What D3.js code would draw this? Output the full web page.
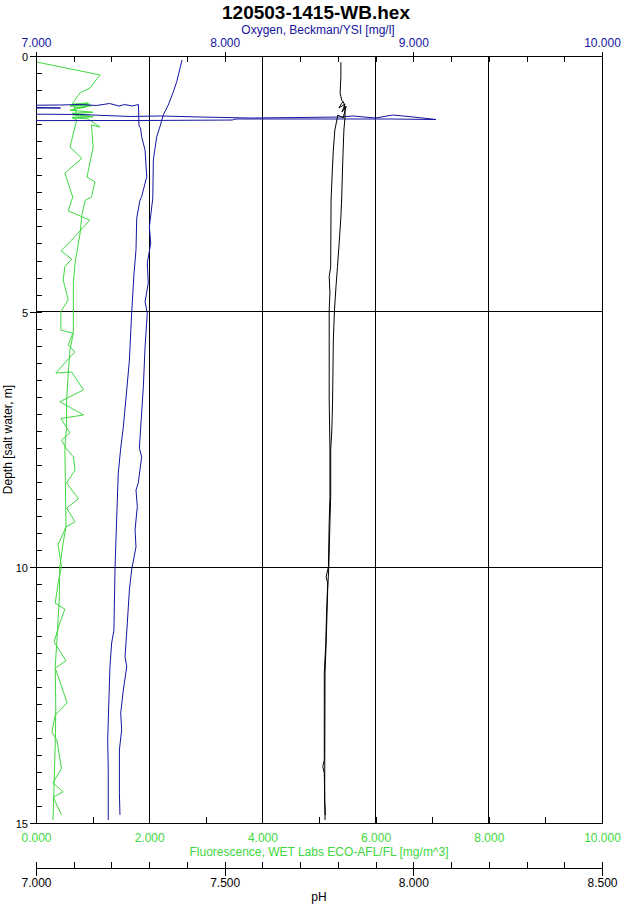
<!DOCTYPE html>
<html>
<head>
<meta charset="utf-8">
<script src="https://cdn.jsdelivr.net/npm/d3@7"></script>
<style>
  body { margin: 0; background: #fff; }
  svg { display: block; font-family: "Liberation Sans", Arial, sans-serif; }
</style>
</head>
<body>
<svg></svg>
<script>
// [depth m, value] pairs

// fluorescence, zigzag trace (reaches the surface)
const fluorA = [
  [0.12, 0.02], [0.37, 1.13], [0.63, 0.95], [0.72, 0.78], [0.92, 0.65], [1.10, 0.71], [1.21, 0.64],
  [1.25, 0.72], [1.78, 0.60], [2.00, 0.81], [2.29, 0.51], [2.76, 0.65], [2.82, 0.63], [3.03, 0.57],
  [3.21, 0.95], [3.60, 0.63], [3.81, 0.44], [3.97, 0.63], [4.12, 0.51], [4.38, 0.48], [4.77, 0.57],
  [5.00, 0.44], [5.36, 0.44], [5.42, 0.65], [5.65, 0.57], [5.79, 0.69], [5.89, 0.60], [6.20, 0.35],
  [6.18, 0.63], [6.53, 0.84], [6.76, 0.42], [7.02, 0.84], [7.09, 0.44], [7.37, 0.60], [7.51, 0.45],
  [7.67, 0.53], [7.84, 0.66], [8.10, 0.69], [8.35, 0.54], [8.66, 0.75], [8.84, 0.54], [9.11, 0.69],
  [9.21, 0.53], [9.56, 0.39], [9.99, 0.45], [10.31, 0.39], [10.70, 0.34], [10.82, 0.51], [11.09, 0.42],
  [11.46, 0.32], [11.83, 0.53], [11.97, 0.34], [12.65, 0.55], [12.89, 0.34], [13.22, 0.28], [13.38, 0.37],
  [13.93, 0.45], [14.22, 0.30], [14.39, 0.48], [14.49, 0.31], [14.58, 0.34], [14.84, 0.45]
];

// fluorescence, smoother trace (starts in the surface soak)
const fluorB = [
  [0.94, 0.64], [0.92, 0.92], [0.96, 0.69], [0.94, 0.95], [0.98, 0.60], [0.97, 0.99], [1.02, 0.67],
  [1.00, 0.88], [1.06, 0.60], [1.10, 1.01], [1.12, 0.64], [1.15, 0.95], [1.17, 0.69], [1.19, 1.01],
  [1.21, 0.65], [1.23, 0.92], [1.39, 1.13], [1.35, 0.98], [1.78, 1.01], [2.37, 0.90], [2.46, 1.04],
  [2.76, 0.98], [2.82, 0.87], [3.11, 0.81], [3.46, 0.78], [4.05, 0.69], [4.44, 0.66], [5.42, 0.66],
  [5.75, 0.60], [6.20, 0.57], [6.73, 0.54], [7.26, 0.54], [7.65, 0.51], [9.21, 0.53], [9.52, 0.48],
  [9.99, 0.42], [10.64, 0.41], [11.42, 0.37], [11.94, 0.34], [12.79, 0.35], [13.44, 0.34], [14.22, 0.32],
  [14.94, 0.30]
];

// oxygen, downcast with the surface soak spike
const oxygenDown = [
  [1.265, 6.54], [1.261, 7.60], [1.252, 8.04], [1.232, 8.06], [1.232, 8.88], [1.242, 9.12], [1.193, 9.00],
  [1.154, 8.89], [1.213, 8.80], [1.173, 8.68], [1.193, 8.61], [1.203, 8.40], [1.213, 8.13], [1.193, 7.87],
  [1.173, 7.66], [1.183, 7.50], [1.144, 7.23], [1.125, 6.54], [1.017, 6.54], [1.017, 7.13], [0.978, 6.54],
  [0.958, 7.13], [0.949, 7.23], [0.968, 7.32], [0.929, 7.39], [0.978, 7.44], [0.949, 7.47], [0.978, 7.51],
  [0.949, 7.543], [1.369, 7.546], [1.408, 7.554], [1.58, 7.560], [1.84, 7.578], [2.36, 7.587], [2.75, 7.560],
  [2.82, 7.551], [3.17, 7.534], [3.79, 7.530], [4.28, 7.519], [5.03, 7.507], [5.95, 7.495], [6.53, 7.481],
  [7.25, 7.463], [7.67, 7.449], [8.16, 7.436], [9.01, 7.428], [9.99, 7.419], [11.23, 7.413], [11.48, 7.401],
  [11.94, 7.392], [12.53, 7.387], [13.38, 7.380], [13.96, 7.383], [14.94, 7.383]
];

// oxygen, upcast
const oxygenUp = [
  [0.08, 7.774], [0.50, 7.746], [0.70, 7.728], [0.96, 7.701], [1.15, 7.675], [1.38, 7.657], [1.58, 7.640],
  [1.80, 7.631], [2.03, 7.622], [2.78, 7.619], [3.34, 7.601], [3.66, 7.608], [4.05, 7.590], [4.44, 7.595],
  [4.81, 7.578], [5.03, 7.590], [5.69, 7.578], [6.47, 7.569], [6.98, 7.560], [7.67, 7.548], [7.84, 7.560],
  [8.35, 7.542], [8.49, 7.530], [8.81, 7.537], [9.27, 7.525], [9.60, 7.530], [10.05, 7.507], [10.44, 7.495],
  [11.09, 7.484], [11.75, 7.472], [11.94, 7.481], [12.40, 7.463], [12.85, 7.449], [13.18, 7.454],
  [13.57, 7.442], [14.41, 7.442], [14.84, 7.445]
];

// pH, downcast
const phDown = [
  [0.894, 7.814], [0.925, 7.810], [1.017, 7.803], [0.939, 7.819], [1.095, 7.811], [0.978, 7.822],
  [1.213, 7.814], [1.154, 7.800], [1.447, 7.792], [1.838, 7.788], [2.288, 7.785], [2.816, 7.782],
  [4.121, 7.781], [4.316, 7.777], [4.635, 7.779], [4.967, 7.777], [6.728, 7.777], [7.705, 7.779],
  [8.619, 7.779], [9.108, 7.777], [9.988, 7.775], [10.183, 7.769], [10.307, 7.773], [10.894, 7.770],
  [11.481, 7.768], [12.067, 7.764], [13.768, 7.764], [13.899, 7.760], [14.022, 7.764], [14.941, 7.766]
];

// pH, upcast
const phUp = [
  [0.123, 7.808], [0.405, 7.808], [0.724, 7.806], [0.860, 7.810], [0.919, 7.816], [1.056, 7.819],
  [1.193, 7.819], [1.447, 7.816], [1.838, 7.814], [2.288, 7.812], [2.816, 7.810], [3.143, 7.808],
  [3.598, 7.804], [4.121, 7.799], [4.512, 7.795], [4.967, 7.791], [5.554, 7.788], [6.728, 7.786],
  [7.314, 7.784], [7.705, 7.781], [8.619, 7.781], [9.108, 7.779], [9.988, 7.776], [10.443, 7.773],
  [11.480, 7.769], [12.067, 7.766], [14.551, 7.765], [14.844, 7.767]
];

// axis ticks and labels
const depthLabels = [0, 5, 10, 15];
const oxygenLabels = [7, 8, 9, 10];
const fluorLabels = [0, 2, 4, 6, 8, 10];
const phLabels = [7, 7.5, 8, 8.5];

const title = "120503-1415-WB.hex";
const blue = "#1414a0";
const green = "#40d840";

const width = 626, height = 905;
const plotLeft = 36, plotRight = 602, plotTop = 56, plotBottom = 823;
const phAxisY = 868;

const svg = d3.select("svg").attr("width", width).attr("height", height);

// scales
const y = d3.scaleLinear().domain([0, 15]).range([plotTop, plotBottom]);
const xOx = d3.scaleLinear().domain([7, 10]).range([plotLeft, plotRight]);
const xFl = d3.scaleLinear().domain([0, 10]).range([plotLeft, plotRight]);
const xPh = d3.scaleLinear().domain([7, 8.5]).range([plotLeft, plotRight]);

const fmt = d3.format(".3f");

// grid lines and frame
const grid = svg.append("g").attr("stroke", "#000").attr("shape-rendering", "crispEdges");
grid.selectAll(".gx").data([2, 4, 6, 8]).enter().append("line")
    .attr("x1", d => xFl(d)).attr("x2", d => xFl(d)).attr("y1", plotTop).attr("y2", plotBottom);
grid.selectAll(".gy").data([5, 10]).enter().append("line")
    .attr("x1", plotLeft).attr("x2", plotRight).attr("y1", d => y(d)).attr("y2", d => y(d));
grid.append("rect").attr("x", plotLeft).attr("y", plotTop)
    .attr("width", plotRight - plotLeft).attr("height", plotBottom - plotTop).attr("fill", "none");

function styleAxis(g, color) {
    g.select(".domain").remove();
    g.attr("font-family", null).attr("font-size", 12);
    g.selectAll(".tick line").attr("stroke", "#000").attr("shape-rendering", "crispEdges");
    g.selectAll(".tick text").attr("fill", color);
}

// top axis: oxygen
svg.append("g").attr("transform", `translate(0,${plotTop})`)
    .call(d3.axisBottom(xOx).tickValues(d3.range(7, 10.001, 0.2)).tickSize(6).tickFormat(""))
    .call(g => styleAxis(g, blue));
svg.append("g").attr("transform", `translate(0,${plotTop})`)
    .call(d3.axisTop(xOx).tickValues(oxygenLabels).tickSize(4).tickPadding(5).tickFormat(fmt))
    .call(g => styleAxis(g, blue));

// left axis: depth
svg.append("g").attr("transform", `translate(${plotLeft},0)`)
    .call(d3.axisRight(y).tickValues(d3.range(0, 46).map(i => i / 3)).tickSize(6).tickFormat(""))
    .call(g => styleAxis(g, "#000"));
svg.append("g").attr("transform", `translate(${plotLeft},0)`)
    .call(d3.axisLeft(y).tickValues(depthLabels).tickSize(6).tickPadding(2).tickFormat(d3.format("d")))
    .call(g => styleAxis(g, "#000"))
    .call(g => g.selectAll(".tick text").attr("font-size", 11).attr("dy", "0.4em"));

// bottom axis: fluorescence
svg.append("g").attr("transform", `translate(0,${plotBottom})`)
    .call(d3.axisTop(xFl).tickValues(d3.range(0, 10.001, 1)).tickSize(6).tickFormat(""))
    .call(g => styleAxis(g, green));
svg.append("g").attr("transform", `translate(0,${plotBottom})`)
    .call(d3.axisBottom(xFl).tickValues(fluorLabels).tickSize(0).tickPadding(10).tickFormat(fmt))
    .call(g => styleAxis(g, green));

// second bottom axis: pH
svg.append("line").attr("x1", plotLeft).attr("x2", plotRight).attr("y1", phAxisY).attr("y2", phAxisY)
    .attr("stroke", "#000").attr("shape-rendering", "crispEdges");
svg.append("g").attr("transform", `translate(0,${phAxisY})`)
    .call(d3.axisTop(xPh).tickValues(d3.range(7, 8.501, 0.1)).tickSize(6).tickFormat(""))
    .call(g => styleAxis(g, "#000"));
svg.append("g").attr("transform", `translate(0,${phAxisY})`)
    .call(d3.axisBottom(xPh).tickValues(phLabels).tickSize(8).tickPadding(2).tickFormat(fmt))
    .call(g => styleAxis(g, "#000"));

// titles
svg.append("text").attr("x", 316).attr("y", 19).attr("text-anchor", "middle")
    .attr("font-size", 19).attr("font-weight", "bold").text(title);
svg.append("text").attr("x", 318).attr("y", 34).attr("text-anchor", "middle")
    .attr("font-size", 12).attr("fill", blue).text("Oxygen, Beckman/YSI [mg/l]");
svg.append("text").attr("x", 319).attr("y", 856).attr("text-anchor", "middle")
    .attr("font-size", 12).attr("fill", green).text("Fluorescence, WET Labs ECO-AFL/FL [mg/m^3]");
svg.append("text").attr("x", 319).attr("y", 901).attr("text-anchor", "middle")
    .attr("font-size", 12).attr("fill", "#000").text("pH");
svg.append("text").attr("transform", `translate(12,${(plotTop + plotBottom) / 2}) rotate(-90)`)
    .attr("text-anchor", "middle").attr("font-size", 12).text("Depth [salt water, m]");

// clip the profiles to the plot box
svg.append("clipPath").attr("id", "plot")
    .append("rect").attr("x", plotLeft).attr("y", plotTop)
    .attr("width", plotRight - plotLeft).attr("height", plotBottom - plotTop);

const lines = svg.append("g").attr("clip-path", "url(#plot)")
    .attr("fill", "none").attr("stroke-width", 1);

function profile(data, xs, color) {
    const line = d3.line().x(d => xs(d[1])).y(d => y(d[0]));
    lines.append("path").datum(data).attr("d", line).attr("stroke", color);
}

profile(fluorA, xFl, green);
profile(fluorB, xFl, green);
profile(oxygenDown, xOx, blue);
profile(oxygenUp, xOx, blue);
profile(phDown, xPh, "#000");
profile(phUp, xPh, "#000");
</script>
</body>
</html>
